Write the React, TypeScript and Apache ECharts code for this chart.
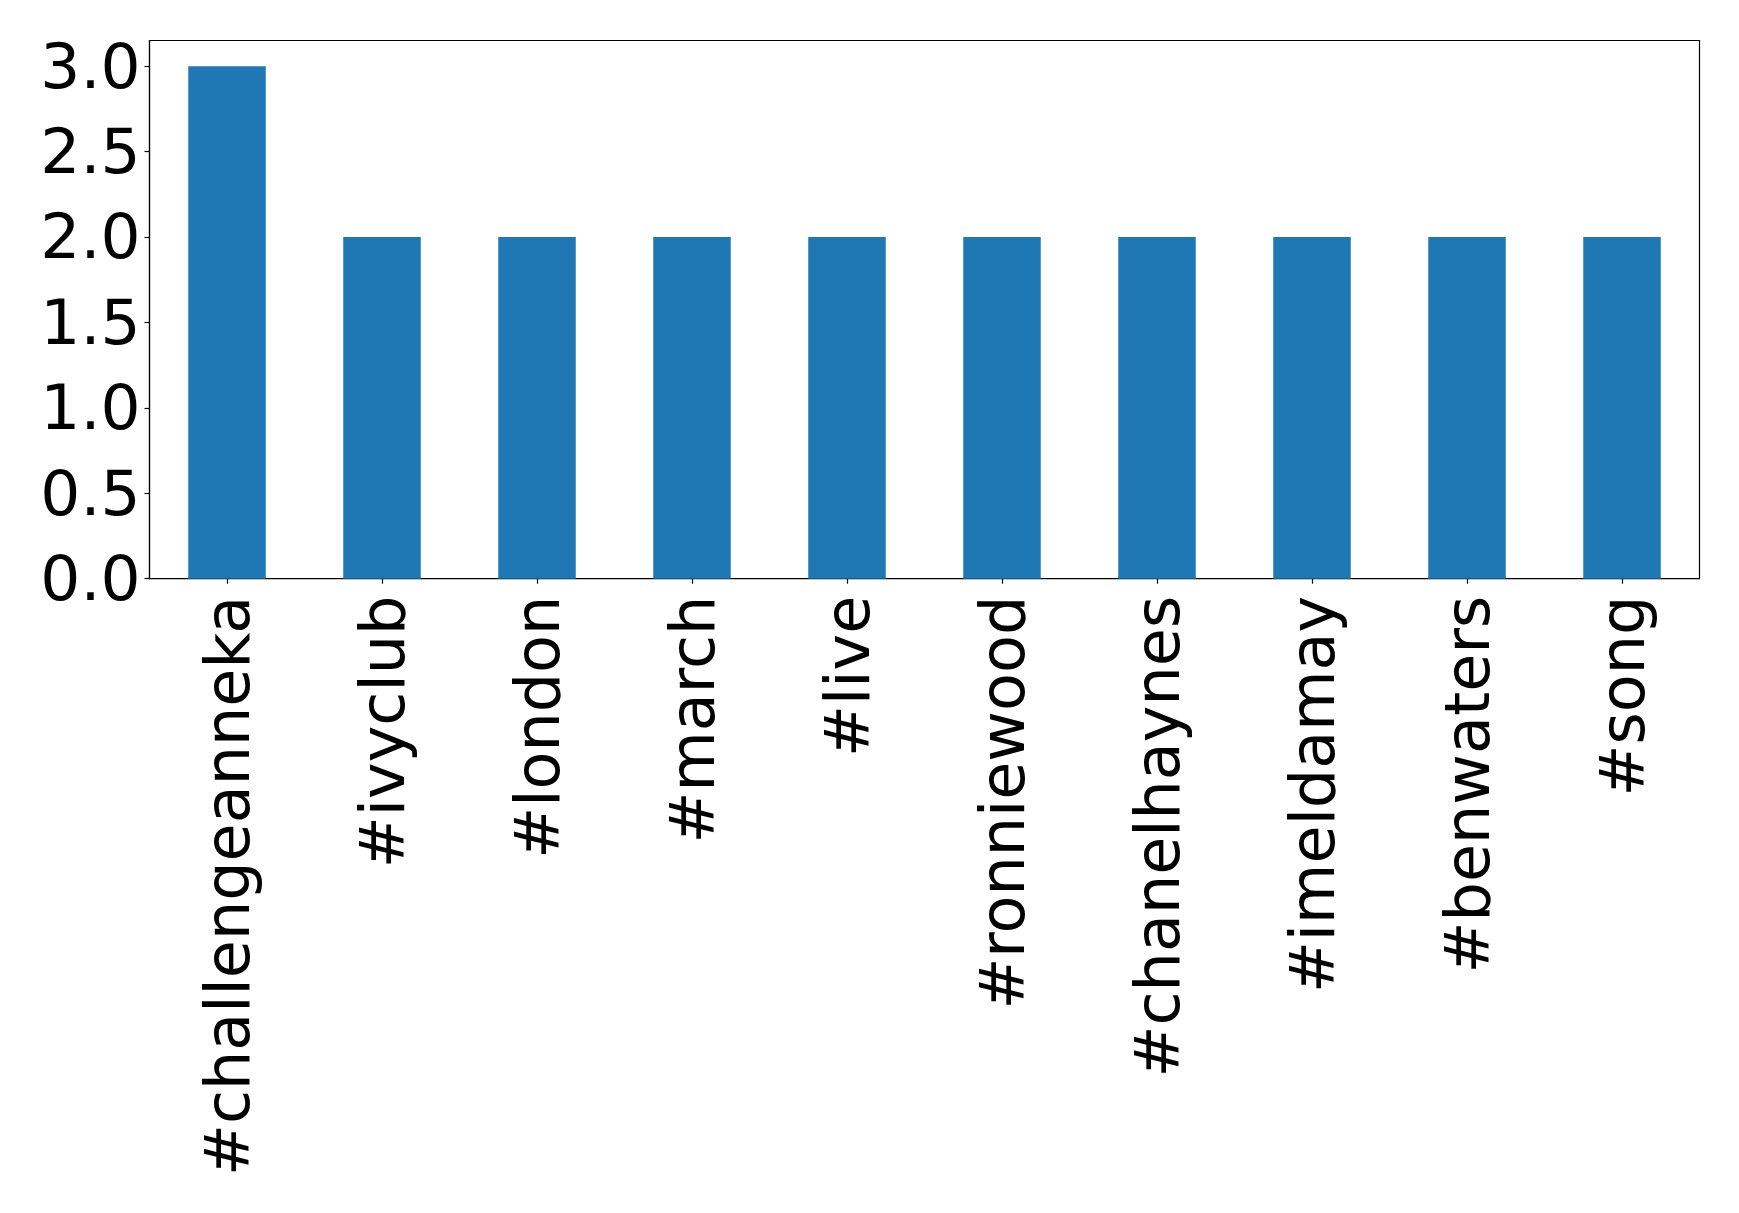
import React, { useEffect, useRef } from "react";
import * as echarts from "echarts";

const categories = [
  "#challengeanneka",
  "#ivyclub",
  "#london",
  "#march",
  "#live",
  "#ronniewood",
  "#chanelhaynes",
  "#imeldamay",
  "#benwaters",
  "#song",
];
const counts = [3, 2, 2, 2, 2, 2, 2, 2, 2, 2];
const yTicks = [0, 0.5, 1.0, 1.5, 2.0, 2.5, 3.0];
const yMax = 3.15;

export default function App() {
  const ref = useRef<HTMLDivElement>(null);
  useEffect(() => {
    if (!ref.current) return;
    const chart = echarts.init(ref.current, null, { renderer: "svg" });
    const font = "DejaVu Sans";
    chart.setOption({
      animation: false,
      backgroundColor: "#ffffff",
      grid: {
        left: 149.5,
        top: 40.5,
        right: 39.5,
        bottom: 634.3,
        show: true,
        borderColor: "#000000",
        borderWidth: 1.2,
        backgroundColor: "transparent",
      },
      xAxis: {
        type: "category",
        data: categories,
        boundaryGap: true,
        axisLine: { show: true, lineStyle: { color: "#000000", width: 1.2 } },
        axisTick: {
          show: true,
          alignWithLabel: true,
          length: 5,
          lineStyle: { color: "#000000", width: 1.2 },
        },
        axisLabel: {
          rotate: 90,
          interval: 0,
          margin: 17,
          color: "#000000",
          fontFamily: font,
          fontSize: 62,
        },
        splitLine: { show: false },
      },
      yAxis: {
        type: "value",
        min: 0,
        max: yMax,
        interval: 0.5,
        axisLine: { show: true, lineStyle: { color: "#000000", width: 1.2 } },
        axisTick: {
          show: true,
          length: 5,
          customValues: yTicks,
          lineStyle: { color: "#000000", width: 1.2 },
        },
        axisLabel: {
          margin: 9,
          color: "#000000",
          fontFamily: font,
          fontSize: 63,
          customValues: yTicks,
          formatter: (v: number) => v.toFixed(1),
        },
        splitLine: { show: false },
      },
      series: [
        {
          type: "bar",
          data: counts,
          barWidth: "50%",
          itemStyle: { color: "#1f77b4" },
        },
      ],
    });
    return () => chart.dispose();
  }, []);
  return (
    <div
      ref={ref}
      style={{ position: "absolute", left: 0, top: 0, width: 1739, height: 1213 }}
    />
  );
}
